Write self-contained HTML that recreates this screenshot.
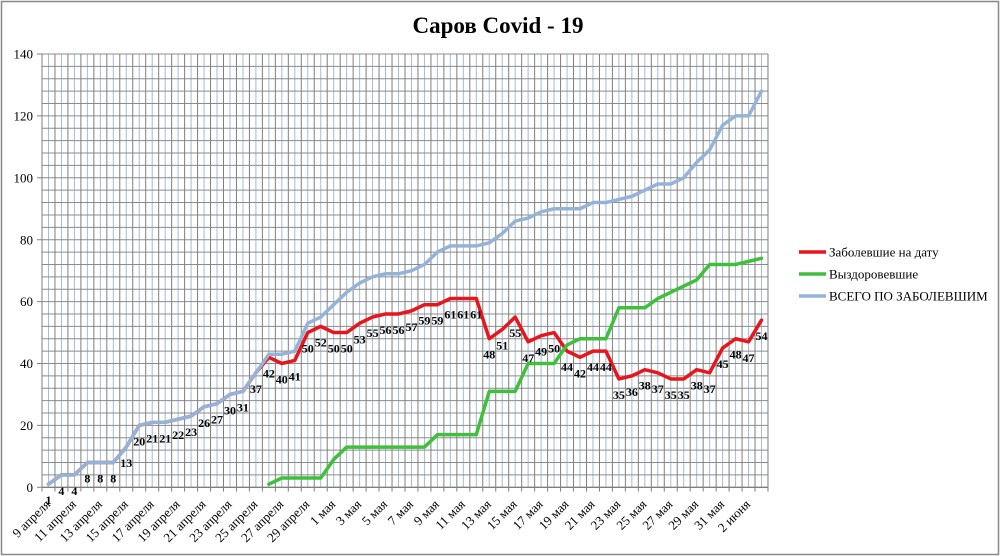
<!DOCTYPE html>
<html>
<head>
<meta charset="utf-8">
<style>
  html, body { margin: 0; padding: 0; background: #ffffff; }
  svg { display: block; }
  .ax { font-family: "Liberation Serif", serif; font-size: 13px; fill: #000; }
  .xl { font-family: "Liberation Serif", serif; font-size: 13px; fill: #000; }
  .dl { font-family: "Liberation Serif", serif; font-size: 12px; font-weight: bold; fill: #000; }
  .lg { font-family: "Liberation Serif", serif; font-size: 13px; fill: #000; }
</style>
</head>
<body>
<svg width="1000" height="556" viewBox="0 0 1000 556" xmlns="http://www.w3.org/2000/svg">
  <rect x="0" y="0" width="1000" height="556" fill="#ffffff"/>
  <rect x="1.5" y="1.5" width="997" height="553" fill="none" stroke="#888888" stroke-width="1.5"/>

  <text x="498" y="33" text-anchor="middle" style="font-family:'Liberation Serif',serif;font-size:23px;font-weight:bold;fill:#000">Саров Covid - 19</text>

  <g transform="translate(48.482,487.3) scale(12.964,-3.095)" fill="none">
    <path stroke="#a3bcd7" stroke-width="1" vector-effect="non-scaling-stroke"
      d="M0 0V140M1 0V140M2 0V140M3 0V140M4 0V140M5 0V140M6 0V140M7 0V140M8 0V140M9 0V140M10 0V140M11 0V140M12 0V140M13 0V140M14 0V140M15 0V140M16 0V140M17 0V140M18 0V140M19 0V140M20 0V140M21 0V140M22 0V140M23 0V140M24 0V140M25 0V140M26 0V140M27 0V140M28 0V140M29 0V140M30 0V140M31 0V140M32 0V140M33 0V140M34 0V140M35 0V140M36 0V140M37 0V140M38 0V140M39 0V140M40 0V140M41 0V140M42 0V140M43 0V140M44 0V140M45 0V140M46 0V140M47 0V140M48 0V140M49 0V140M50 0V140M51 0V140M52 0V140M53 0V140M54 0V140M55 0V140"/>
    <path stroke="#8c8c8c" stroke-width="1" vector-effect="non-scaling-stroke"
      d="M-0.5 4H55.5M-0.5 8H55.5M-0.5 12H55.5M-0.5 16H55.5M-0.5 20H55.5M-0.5 24H55.5M-0.5 28H55.5M-0.5 32H55.5M-0.5 36H55.5M-0.5 40H55.5M-0.5 44H55.5M-0.5 48H55.5M-0.5 52H55.5M-0.5 56H55.5M-0.5 60H55.5M-0.5 64H55.5M-0.5 68H55.5M-0.5 72H55.5M-0.5 76H55.5M-0.5 80H55.5M-0.5 84H55.5M-0.5 88H55.5M-0.5 92H55.5M-0.5 96H55.5M-0.5 100H55.5M-0.5 104H55.5M-0.5 108H55.5M-0.5 112H55.5M-0.5 116H55.5M-0.5 120H55.5M-0.5 124H55.5M-0.5 128H55.5M-0.5 132H55.5M-0.5 136H55.5M-0.5 140H55.5"/>
    <path stroke="#7f7f7f" stroke-width="1" vector-effect="non-scaling-stroke"
      d="M-0.5 -1.4V140M0.5 -1.4V140M1.5 -1.4V140M2.5 -1.4V140M3.5 -1.4V140M4.5 -1.4V140M5.5 -1.4V140M6.5 -1.4V140M7.5 -1.4V140M8.5 -1.4V140M9.5 -1.4V140M10.5 -1.4V140M11.5 -1.4V140M12.5 -1.4V140M13.5 -1.4V140M14.5 -1.4V140M15.5 -1.4V140M16.5 -1.4V140M17.5 -1.4V140M18.5 -1.4V140M19.5 -1.4V140M20.5 -1.4V140M21.5 -1.4V140M22.5 -1.4V140M23.5 -1.4V140M24.5 -1.4V140M25.5 -1.4V140M26.5 -1.4V140M27.5 -1.4V140M28.5 -1.4V140M29.5 -1.4V140M30.5 -1.4V140M31.5 -1.4V140M32.5 -1.4V140M33.5 -1.4V140M34.5 -1.4V140M35.5 -1.4V140M36.5 -1.4V140M37.5 -1.4V140M38.5 -1.4V140M39.5 -1.4V140M40.5 -1.4V140M41.5 -1.4V140M42.5 -1.4V140M43.5 -1.4V140M44.5 -1.4V140M45.5 -1.4V140M46.5 -1.4V140M47.5 -1.4V140M48.5 -1.4V140M49.5 -1.4V140M50.5 -1.4V140M51.5 -1.4V140M52.5 -1.4V140M53.5 -1.4V140M54.5 -1.4V140M55.5 -1.4V140"/>
    <path stroke="#7f7f7f" stroke-width="1.3" vector-effect="non-scaling-stroke" d="M-0.5 0H55.5"/>

    <polyline stroke="#e8161c" stroke-width="3.5" stroke-linejoin="round" stroke-linecap="round" vector-effect="non-scaling-stroke"
      points="0,1 1,4 2,4 3,8 4,8 5,8 6,13 7,20 8,21 9,21 10,22 11,23 12,26 13,27 14,30 15,31 16,37 17,42 18,40 19,41 20,50 21,52 22,50 23,50 24,53 25,55 26,56 27,56 28,57 29,59 30,59 31,61 32,61 33,61 34,48 35,51 36,55 37,47 38,49 39,50 40,44 41,42 42,44 43,44 44,35 45,36 46,38 47,37 48,35 49,35 50,38 51,37 52,45 53,48 54,47 55,54"/>
    <polyline stroke="#40bf3c" stroke-width="3.5" stroke-linejoin="round" stroke-linecap="round" vector-effect="non-scaling-stroke"
      points="17,1 18,3 19,3 20,3 21,3 22,9 23,13 24,13 25,13 26,13 27,13 28,13 29,13 30,17 31,17 32,17 33,17 34,31 35,31 36,31 37,40 38,40 39,40 40,46 41,48 42,48 43,48 44,58 45,58 46,58 47,61 48,63 49,65 50,67 51,72 52,72 53,72 54,73 55,74"/>
    <polyline stroke="#95b3d7" stroke-width="3.5" stroke-linejoin="round" stroke-linecap="round" vector-effect="non-scaling-stroke"
      points="0,1 1,4 2,4 3,8 4,8 5,8 6,13 7,20 8,21 9,21 10,22 11,23 12,26 13,27 14,30 15,31 16,37 17,43 18,43 19,44 20,53 21,55 22,59 23,63 24,66 25,68 26,69 27,69 28,70 29,72 30,76 31,78 32,78 33,78 34,79 35,82 36,86 37,87 38,89 39,90 40,90 41,90 42,92 43,92 44,93 45,94 46,96 47,98 48,98 49,100 50,105 51,109 52,117 53,120 54,120 55,128"/>
  </g>

  <path stroke="#7f7f7f" stroke-width="1" fill="none"
    d="M37 487.3H42M37 425.4H42M37 363.5H42M37 301.6H42M37 239.7H42M37 177.8H42M37 115.9H42M37 54H42"/>

  <g class="ax" text-anchor="end">
    <text x="33" y="487.3" dy="0.35em">0</text>
    <text x="33" y="425.4" dy="0.35em">20</text>
    <text x="33" y="363.5" dy="0.35em">40</text>
    <text x="33" y="301.6" dy="0.35em">60</text>
    <text x="33" y="239.7" dy="0.35em">80</text>
    <text x="33" y="177.8" dy="0.35em">100</text>
    <text x="33" y="115.9" dy="0.35em">120</text>
    <text x="33" y="54" dy="0.35em">140</text>
  </g>

  <g class="xl" text-anchor="end">
    <text transform="translate(51,505) rotate(-45)">9 апреля</text>
    <text transform="translate(76.9,505) rotate(-45)">11 апреля</text>
    <text transform="translate(102.8,505) rotate(-45)">13 апреля</text>
    <text transform="translate(128.8,505) rotate(-45)">15 апреля</text>
    <text transform="translate(154.7,505) rotate(-45)">17 апреля</text>
    <text transform="translate(180.6,505) rotate(-45)">19 апреля</text>
    <text transform="translate(206.6,505) rotate(-45)">21 апреля</text>
    <text transform="translate(232.5,505) rotate(-45)">23 апреля</text>
    <text transform="translate(258.4,505) rotate(-45)">25 апреля</text>
    <text transform="translate(284.3,505) rotate(-45)">27 апреля</text>
    <text transform="translate(310.3,505) rotate(-45)">29 апреля</text>
    <text transform="translate(336.2,505) rotate(-45)">1 мая</text>
    <text transform="translate(362.1,505) rotate(-45)">3 мая</text>
    <text transform="translate(388.1,505) rotate(-45)">5 мая</text>
    <text transform="translate(414,505) rotate(-45)">7 мая</text>
    <text transform="translate(439.9,505) rotate(-45)">9 мая</text>
    <text transform="translate(465.8,505) rotate(-45)">11 мая</text>
    <text transform="translate(491.8,505) rotate(-45)">13 мая</text>
    <text transform="translate(517.7,505) rotate(-45)">15 мая</text>
    <text transform="translate(543.6,505) rotate(-45)">17 мая</text>
    <text transform="translate(569.5,505) rotate(-45)">19 мая</text>
    <text transform="translate(595.5,505) rotate(-45)">21 мая</text>
    <text transform="translate(621.4,505) rotate(-45)">23 мая</text>
    <text transform="translate(647.3,505) rotate(-45)">25 мая</text>
    <text transform="translate(673.3,505) rotate(-45)">27 мая</text>
    <text transform="translate(699.2,505) rotate(-45)">29 мая</text>
    <text transform="translate(725.1,505) rotate(-45)">31 мая</text>
    <text transform="translate(751,505) rotate(-45)">2 июня</text>
  </g>

  <g class="dl" text-anchor="middle">
    <text x="48.5" y="504.2">1</text>
    <text x="61.4" y="494.9">4</text>
    <text x="74.4" y="494.9">4</text>
    <text x="87.4" y="482.5">8</text>
    <text x="100.3" y="482.5">8</text>
    <text x="113.3" y="482.5">8</text>
    <text x="126.3" y="467.1">13</text>
    <text x="139.2" y="445.4">20</text>
    <text x="152.2" y="442.3">21</text>
    <text x="165.2" y="442.3">21</text>
    <text x="178.1" y="439.2">22</text>
    <text x="191.1" y="436.1">23</text>
    <text x="204.1" y="426.8">26</text>
    <text x="217" y="423.7">27</text>
    <text x="230" y="414.5">30</text>
    <text x="242.9" y="411.4">31</text>
    <text x="255.9" y="392.8">37</text>
    <text x="268.9" y="377.3">42</text>
    <text x="281.8" y="383.5">40</text>
    <text x="294.8" y="380.4">41</text>
    <text x="307.8" y="352.6">50</text>
    <text x="320.7" y="346.4">52</text>
    <text x="333.7" y="352.6">50</text>
    <text x="346.7" y="352.6">50</text>
    <text x="359.6" y="343.3">53</text>
    <text x="372.6" y="337.1">55</text>
    <text x="385.5" y="334">56</text>
    <text x="398.5" y="334">56</text>
    <text x="411.5" y="330.9">57</text>
    <text x="424.4" y="324.7">59</text>
    <text x="437.4" y="324.7">59</text>
    <text x="450.4" y="318.5">61</text>
    <text x="463.3" y="318.5">61</text>
    <text x="476.3" y="318.5">61</text>
    <text x="489.3" y="358.7">48</text>
    <text x="502.2" y="349.5">51</text>
    <text x="515.2" y="337.1">55</text>
    <text x="528.2" y="361.8">47</text>
    <text x="541.1" y="355.6">49</text>
    <text x="554.1" y="352.6">50</text>
    <text x="567" y="371.1">44</text>
    <text x="580" y="377.3">42</text>
    <text x="593" y="371.1">44</text>
    <text x="605.9" y="371.1">44</text>
    <text x="618.9" y="399">35</text>
    <text x="631.9" y="395.9">36</text>
    <text x="644.8" y="389.7">38</text>
    <text x="657.8" y="392.8">37</text>
    <text x="670.8" y="399">35</text>
    <text x="683.7" y="399">35</text>
    <text x="696.7" y="389.7">38</text>
    <text x="709.6" y="392.8">37</text>
    <text x="722.6" y="368">45</text>
    <text x="735.6" y="358.7">48</text>
    <text x="748.5" y="361.8">47</text>
    <text x="761.5" y="340.2">54</text>
  </g>

  <g>
    <line x1="799" y1="252" x2="826" y2="252" stroke="#e8161c" stroke-width="3.5"/>
    <line x1="799" y1="274" x2="826" y2="274" stroke="#40bf3c" stroke-width="3.5"/>
    <line x1="799" y1="296" x2="826" y2="296" stroke="#95b3d7" stroke-width="3.5"/>
    <text class="lg" x="829" y="252" dy="0.35em">Заболевшие на дату</text>
    <text class="lg" x="829" y="274" dy="0.35em">Выздоровевшие</text>
    <text class="lg" x="829" y="296" dy="0.35em">ВСЕГО ПО ЗАБОЛЕВШИМ</text>
  </g>
</svg>
</body>
</html>
